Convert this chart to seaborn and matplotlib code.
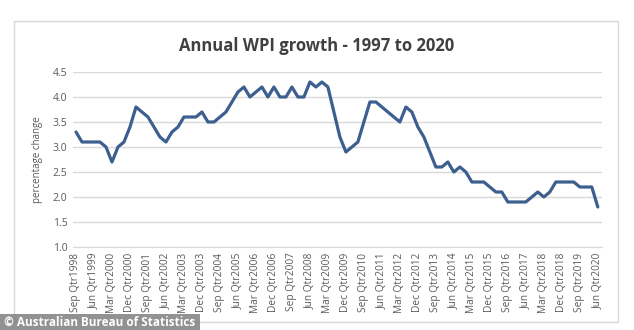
import matplotlib
matplotlib.use("Agg")
import matplotlib.pyplot as plt
import seaborn as sns
import pandas as pd
import numpy as np

# Annual WPI growth (%), quarterly, Sep Qtr 1998 – Jun Qtr 2020
wpi_growth = [
    3.3, 3.1, 3.1, 3.1, 3.1, 3.0, 2.7, 3.0, 3.1, 3.4,
    3.8, 3.7, 3.6, 3.4, 3.2, 3.1, 3.3, 3.4, 3.6, 3.6,
    3.6, 3.7, 3.5, 3.5, 3.6, 3.7, 3.9, 4.1, 4.2, 4.0,
    4.1, 4.2, 4.0, 4.2, 4.0, 4.0, 4.2, 4.0, 4.0, 4.3,
    4.2, 4.3, 4.2, 3.7, 3.2, 2.9, 3.0, 3.1, 3.5, 3.9,
    3.9, 3.8, 3.7, 3.6, 3.5, 3.8, 3.7, 3.4, 3.2, 2.9,
    2.6, 2.6, 2.7, 2.5, 2.6, 2.5, 2.3, 2.3, 2.3, 2.2,
    2.1, 2.1, 1.9, 1.9, 1.9, 1.9, 2.0, 2.1, 2.0, 2.1,
    2.3, 2.3, 2.3, 2.3, 2.2, 2.2, 2.2, 1.8,
]

# Category labels shown every third quarter
tick_labels = [
    "Sep Qtr1998", "Jun Qtr1999", "Mar Qtr2000", "Dec Qtr2000", "Sep Qtr2001",
    "Jun Qtr2002", "Mar Qtr2003", "Dec Qtr2003", "Sep Qtr2004", "Jun Qtr2005",
    "Mar Qtr2006", "Dec Qtr2006", "Sep Qtr2007", "Jun Qtr2008", "Mar Qtr2009",
    "Dec Qtr2009", "Sep Qtr2010", "Jun Qtr2011", "Mar Qtr2012", "Dec Qtr2012",
    "Sep Qtr2013", "Jun Qtr2014", "Mar Qtr2015", "Dec Qtr2015", "Sep Qtr2016",
    "Jun Qtr2017", "Mar Qtr2018", "Dec Qtr2018", "Sep Qtr2019", "Jun Qtr2020",
]
y_ticks = [1.0, 1.5, 2.0, 2.5, 3.0, 3.5, 4.0, 4.5]

df = pd.DataFrame({"quarter": np.arange(len(wpi_growth)), "growth": wpi_growth})

sns.set_style("white")
plt.rcParams["font.family"] = ["Open Sans", "DejaVu Sans"]

W, H = 634, 330
fig = plt.figure(figsize=(W / 100, H / 100), dpi=100)
fig.patch.set_facecolor("white")

# outer chart frame
frame = plt.Rectangle((14 / W, (H - 322) / H), (618 - 14) / W, (322 - 21) / H,
                      transform=fig.transFigure, fill=False,
                      edgecolor="#d9d9d9", linewidth=1.0)
fig.add_artist(frame)

ax = fig.add_axes([73 / W, (H - 247) / H, (602 - 73) / W, (247 - 72) / H])
sns.lineplot(data=df, x="quarter", y="growth", ax=ax, color="#3d5f8f",
             linewidth=2.3, solid_joinstyle="round")

ax.set_xlim(-0.5, 87.7)
ax.set_ylim(1.0, 4.5)
ax.set_yticks(y_ticks)
ax.set_yticklabels([f"{v:.1f}" for v in y_ticks], fontsize=7.5, color="#595959")
ax.set_xticks(np.arange(0, len(wpi_growth), 3))
ax.set_xticklabels(tick_labels, rotation=90, fontsize=7.3, color="#595959")
ax.tick_params(axis="both", length=0, pad=4)
ax.grid(axis="y", color="#d9d9d9", linewidth=1.0)
ax.set_axisbelow(True)
for s in ["top", "right", "left"]:
    ax.spines[s].set_visible(False)
ax.spines["bottom"].set_color("#d9d9d9")
ax.set_xlabel("")
ax.set_ylabel("percentage change", fontsize=7, color="#595959", labelpad=7)

fig.text(0.5, (H - 46) / H, "Annual WPI growth - 1997 to 2020", ha="center",
         va="center", fontsize=12, fontweight="bold", color="#404040")

# credit banner
fig.add_artist(plt.Rectangle((0, 0), 200 / W, 16 / H, transform=fig.transFigure,
                             facecolor="#7f7f7f", alpha=0.85, edgecolor="none"))
fig.text(4 / W, 8 / H, "© Australian Bureau of Statistics", ha="left", va="center",
         fontsize=8.5, fontweight="bold", color="white")

fig.savefig("out.png", dpi=100)
